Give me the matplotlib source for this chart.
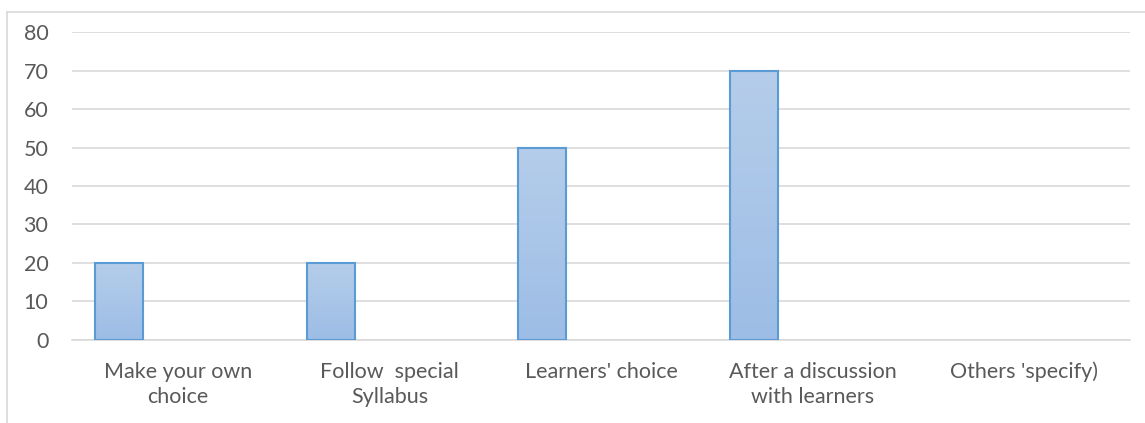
import matplotlib.pyplot as plt
import numpy as np
from matplotlib.lines import Line2D
from matplotlib.colors import LinearSegmentedColormap

categories = ["Make your own\nchoice", "Follow  special\nSyllabus", "Learners' choice",
              "After a discussion\nwith learners", "Others 'specify)"]
values = [20, 20, 50, 70, 0]
yticks = [0, 10, 20, 30, 40, 50, 60, 70, 80]


def main():
    plt.rcParams['font.family'] = ['Lato', 'DejaVu Sans']
    fig = plt.figure(figsize=(11.45, 4.23), dpi=100)
    W, H = 1145, 423
    ax = fig.add_axes([72 / W, 1 - 339.5 / H, (1130 - 72) / W, (339.5 - 32.5) / H])

    # outer chart frame (only top and left edges show)
    fig.add_artist(Line2D([7 / W, 1], [1 - 12 / H, 1 - 12 / H], color="#D9D9D9", lw=1.2,
                          transform=fig.transFigure))
    fig.add_artist(Line2D([7 / W, 7 / W], [0, 1 - 12 / H], color="#D9D9D9", lw=1.2,
                          transform=fig.transFigure))

    x = np.arange(len(categories))
    width = 0.227
    offset = -0.5 + 0.109 + width / 2

    grad = np.linspace(0, 1, 256).reshape(-1, 1)
    cmap = LinearSegmentedColormap.from_list("barfill", ["#9DBDE6", "#B5CDEA"])

    bars = ax.bar(x + offset, values, width, facecolor="none", edgecolor="#5B9BD5",
                  linewidth=1.5, zorder=3)
    for b in bars:
        if b.get_height() <= 0:
            b.set_visible(False)
            continue
        x0, y0 = b.get_x(), b.get_y()
        im = ax.imshow(grad, cmap=cmap, aspect="auto", origin="lower",
                       extent=[x0, x0 + b.get_width(), y0, y0 + b.get_height()], zorder=2)
        im.set_clip_path(b)

    ax.set_xlim(-0.5, len(categories) - 0.5)
    ax.set_ylim(0, 80)
    ax.set_yticks(yticks)
    ax.set_xticks(x)
    ax.set_xticklabels(categories, color="#595959", fontsize=15.5, linespacing=1.3)
    ax.tick_params(axis="y", colors="#595959", labelsize=15.5, length=0, pad=17)
    ax.tick_params(axis="x", length=0, pad=16)
    ax.yaxis.grid(True, color="#D9D9D9", linewidth=1.2, zorder=0)
    ax.set_axisbelow(True)
    for side in ["top", "right", "left"]:
        ax.spines[side].set_visible(False)
    ax.spines["bottom"].set_color("#D9D9D9")
    ax.spines["bottom"].set_linewidth(1.2)

    fig.savefig("out.png", dpi=100)


if __name__ == "__main__":
    main()
